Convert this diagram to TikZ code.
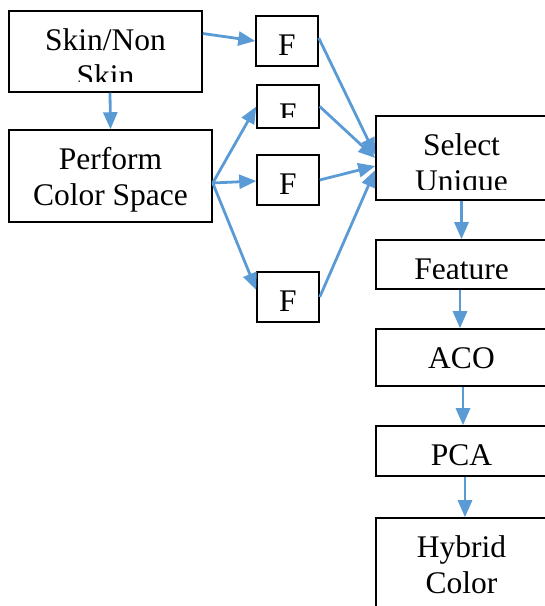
\documentclass[tikz,border=0pt]{standalone}
\usepackage{fontspec}
\setmainfont{Liberation Serif}
\usetikzlibrary{arrows.meta}
\definecolor{flowblue}{HTML}{5B9BD5}
% centred lines whose baseline is the first line's baseline
\newcommand\boxlines[1]{\begin{tabular}[t]{@{}c@{}}#1\end{tabular}}
\begin{document}
\begin{tikzpicture}[x=1pt,y=1pt,
  stage/.style={draw=black, line width=1.5pt, inner sep=0pt,
    path picture={
      \clip ([yshift=10pt]path picture bounding box.south west)
        rectangle (path picture bounding box.north east);
      \node[anchor=base, inner sep=0pt, font=\fontsize{31.5}{36}\selectfont]
        at ([yshift=-39.5pt]path picture bounding box.north) {\boxlines{#1}};}},
  flow/.style={draw=flowblue, line width=2.8pt,
    -{Triangle[length=17pt,width=14pt]}}]
\useasboundingbox (0,0) rectangle (545,606);

% left column
\node[stage={Skin/Non\\Skin}, minimum width=193pt, minimum height=81pt] (skin) at (105.5,554.5) {};
\node[stage={Perform\\Color Space}, minimum width=203pt, minimum height=92pt] (perform) at (110.5,430) {};

% feature boxes
\node[stage=F, minimum width=62pt, minimum height=50pt] (f1) at (287,565) {};
\node[stage=F, minimum width=62pt, minimum height=43pt] (f2) at (288,499.5) {};
\node[stage=F, minimum width=62pt, minimum height=50pt] (f3) at (288,426) {};
\node[stage=F, minimum width=62pt, minimum height=50pt] (f4) at (288,309) {};

% right column
\node[stage={Select\\Unique}, minimum width=171pt, minimum height=84pt] (select) at (461.5,448) {};
\node[stage=Feature, minimum width=171pt, minimum height=49pt] (feature) at (461.5,341.5) {};
\node[stage=ACO, minimum width=171pt, minimum height=57pt] (aco) at (461.5,248.5) {};
\node[stage=PCA, minimum width=171pt, minimum height=50pt] (pca) at (461.5,155) {};
\node[stage={Hybrid\\Color}, minimum width=171pt, minimum height=108pt] (hybrid) at (461.5,34) {};

\coordinate (hub) at ([yshift=-7pt]perform.east);

% connectors
\draw[flow] ([yshift=18pt]skin.east) -- (f1.west);
\draw[flow] ([xshift=4.5pt]skin.south) -- (perform.north);
\draw[flow] (hub) -- (f2.west);
\draw[flow] (hub) -- ([yshift=-1pt]f3.west);
\draw[flow] (hub) -- ([yshift=7pt]f4.west);
\draw[flow] ([yshift=3pt]f1.east) -- ([yshift=3pt]select.west);
\draw[flow] (f2.east) -- (select.west);
\draw[flow] (f3.east) -- ([yshift=-8pt]select.west);
\draw[flow] (f4.east) -- ([yshift=-12pt]select.west);
\draw[flow] (select.south) -- (feature.north);
\draw[flow] ([xshift=-1.5pt]feature.south) -- ([xshift=-1.5pt]aco.north);
\draw[flow] ([xshift=1.5pt]aco.south) -- ([xshift=1.5pt]pca.north);
\draw[flow] ([xshift=3.5pt]pca.south) -- ([xshift=3.5pt]hybrid.north);
\end{tikzpicture}
\end{document}
